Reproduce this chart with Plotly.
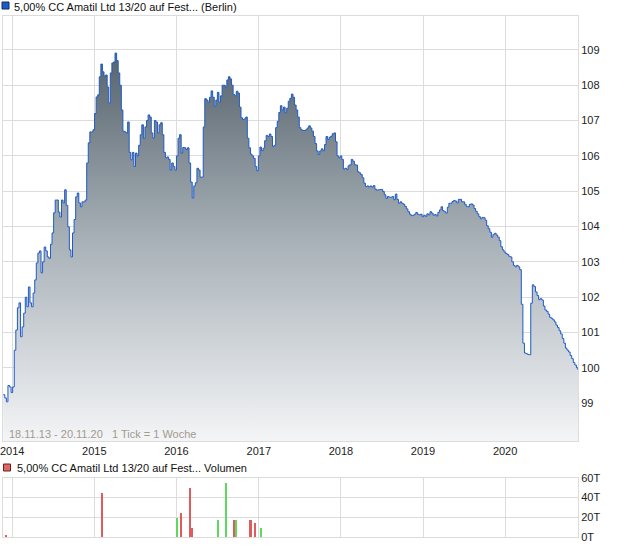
import plotly.graph_objects as go
import pandas as pd

# ---------------- data ----------------
start_date = "2013-11-22"
n_weeks = 366
prices = [
    99.24, 99.15, 99.04, 99.5, 99.46, 99.3, 99.46, 100.5, 101.07, 101.7,
    101.84, 100.88, 101.16, 101.55, 102.0, 101.73, 102.29, 101.84, 101.73, 102.12,
    102.49, 102.97, 103.25, 103.31, 102.69, 103.0, 103.42, 103.31, 103.14, 103.1,
    103.5, 103.82, 104.39, 104.75, 104.75, 104.41, 104.27, 104.75, 104.67, 105.04,
    104.6, 103.99, 103.34, 103.14, 103.82, 104.2, 104.84, 104.95, 104.67, 104.56,
    104.7, 104.7, 104.75, 105.8, 106.37, 106.68, 106.68, 106.74, 107.2, 107.67,
    107.73, 108.24, 108.6, 108.38, 108.26, 108.29, 107.95, 107.5, 108.35, 108.63,
    108.66, 108.91, 108.7, 108.35, 108.0, 107.3, 106.7, 106.68, 106.65, 106.96,
    106.1, 105.89, 106.1, 105.7, 106.08, 106.0, 106.3, 106.6, 106.88, 106.5,
    106.82, 107.0, 107.16, 107.1, 106.65, 106.51, 107.0, 106.96, 106.65, 106.88,
    106.94, 106.6, 106.1, 105.95, 105.97, 105.9, 105.6, 105.8, 105.7, 105.6,
    106.0, 106.5, 106.6, 106.08, 106.24, 106.23, 106.18, 106.23, 105.8, 105.26,
    104.81, 105.15, 105.24, 105.65, 105.6, 105.4, 105.4, 106.82, 107.62, 107.58,
    107.52, 107.66, 107.84, 107.66, 107.4, 107.58, 107.8, 107.52, 107.7, 108.0,
    108.0, 107.95, 108.15, 108.24, 108.18, 108.0, 107.74, 107.7, 107.83, 107.78,
    107.38, 107.08, 107.03, 107.05, 107.1, 106.5, 106.23, 106.05, 106.0, 105.93,
    105.7, 105.58, 106.0, 106.25, 106.15, 106.22, 106.43, 106.58, 106.55, 106.62,
    106.55, 106.27, 106.3, 106.8, 106.98, 107.23, 107.42, 107.3, 107.38, 107.22,
    107.35, 107.55, 107.63, 107.75, 107.66, 107.44, 107.3, 107.1, 106.8, 106.74,
    106.72, 106.72, 106.74, 106.79, 106.85, 106.79, 106.7, 106.55, 106.35, 106.14,
    106.04, 106.14, 106.2, 106.15, 106.32, 106.55, 106.47, 106.53, 106.56, 106.63,
    106.65, 106.4, 106.0, 105.95, 106.0, 105.9, 105.63, 105.65, 105.62, 105.72,
    105.75, 105.9, 105.85, 105.75, 105.74, 105.55, 105.52, 105.47, 105.38, 105.23,
    105.13, 105.15, 105.12, 105.15, 105.12, 105.16, 105.06, 105.03, 105.04, 105.05,
    105.05, 104.99, 104.9, 104.8, 104.85, 104.83, 104.83, 104.85, 104.76, 104.92,
    104.77, 104.66, 104.7, 104.66, 104.63, 104.57, 104.5, 104.42, 104.35, 104.31,
    104.32, 104.35, 104.4, 104.35, 104.33, 104.35, 104.28, 104.32, 104.29, 104.36,
    104.33, 104.42, 104.38, 104.32, 104.34, 104.3, 104.4, 104.47, 104.56, 104.45,
    104.42, 104.38, 104.55, 104.66, 104.66, 104.71, 104.74, 104.72, 104.67, 104.77,
    104.77, 104.7, 104.7, 104.63, 104.57, 104.56, 104.63, 104.64, 104.61, 104.51,
    104.43, 104.36, 104.28, 104.22, 104.26, 104.25, 104.18, 104.02, 103.94, 103.84,
    103.7, 103.78, 103.81, 103.76, 103.7, 103.6, 103.43, 103.34, 103.28, 103.24,
    103.21, 103.16, 103.14, 103.0, 102.9, 102.86, 102.9, 102.86, 102.78, 101.8,
    100.7, 100.42, 100.4, 100.38, 100.37, 101.83, 102.35, 102.3, 102.15, 102.05,
    101.93, 101.96, 101.92, 101.75, 101.64, 101.6, 101.52, 101.43, 101.4, 101.36,
    101.3, 101.21, 101.14, 101.05, 100.96, 100.83, 100.7, 100.56, 100.5, 100.45,
    100.35, 100.26, 100.15, 100.08, 100.0, 99.94,
]

vol_dates = ["2013-12-05", "2015-02-04", "2016-01-03", "2016-01-21", "2016-03-02",
             "2016-03-11", "2016-07-05", "2016-08-09", "2016-09-14", "2016-09-23",
             "2016-11-22", "2016-11-28", "2016-12-16", "2017-01-11"]
vol_values = [2500, 45000, 20000, 24500, 50000, 9000, 18000, 55000, 18000, 18000,
              18000, 18000, 14000, 9000]
vol_dir = ["down", "down", "up", "down", "down", "down", "up", "up", "down", "up",
           "down", "down", "down", "up"]

price_ticks = [99, 100, 101, 102, 103, 104, 105, 106, 107, 108, 109]
vol_ticks = [0, 20000, 40000, 60000]
vol_tick_labels = ["0T", "20T", "40T", "60T"]

title_main = "5,00% CC Amatil Ltd 13/20 auf Fest... (Berlin)"
title_vol = "5,00% CC Amatil Ltd 13/20 auf Fest... Volumen"
range_note = "18.11.13 - 20.11.20&nbsp;&nbsp;&nbsp;1 Tick = 1 Woche"

# ---------------- layout geometry ----------------
W, H = 620, 546
ML, MR, MT, MB = 3, 42, 16, 9
PW, PH = W - ML - MR, H - MT - MB


def px(xp):
    return (xp - ML) / PW


def py(yp):
    return (H - MB - yp) / PH


dates = pd.date_range(start_date, periods=n_weeks, freq="7D")
FONT = "Liberation Sans, Arial, sans-serif"
GRID = "#dcdcdc"

fig = go.Figure()

fig.add_trace(go.Scatter(
    x=dates, y=prices, mode="lines",
    line=dict(color="#1f5bc8", width=1, shape="hv"),
    fill="tozeroy",
    fillgradient=dict(type="vertical", start=97.9, stop=109.0,
                      colorscale=[[0, "#f4f5f7"], [0.5, "#aab3b9"], [1, "#55626c"]]),
    hoverinfo="skip", showlegend=False,
    xaxis="x", yaxis="y",
))

vol_colors = ["#e05c5c" if d == "down" else "#5fd85f" for d in vol_dir]
fig.add_trace(go.Bar(
    x=pd.to_datetime(vol_dates), y=vol_values,
    marker=dict(color=vol_colors, line=dict(width=0)),
    width=4 * 86400000,
    showlegend=False, hoverinfo="skip",
    xaxis="x2", yaxis="y2",
))

x_range = ["2013-11-21", "2020-11-20"]
main_bottom = py(441)
vol_top = py(477.7)

fig.update_layout(
    width=W, height=H,
    margin=dict(l=ML, r=MR, t=MT, b=MB, pad=0),
    paper_bgcolor="white", plot_bgcolor="white",
    font=dict(family=FONT, size=11, color="#222222"),
    bargap=0,
    xaxis=dict(
        type="date", range=x_range, domain=[0, 1], anchor="y",
        tick0="2014-01-01", dtick="M12", tickformat="%Y",
        showgrid=True, gridcolor=GRID, gridwidth=1,
        showline=True, linecolor=GRID, linewidth=1, mirror=True,
        ticks="", tickfont=dict(size=11, color="#222222"),
        ticklabeloverflow="allow", automargin=False,
        zeroline=False,
    ),
    yaxis=dict(
        range=[97.93, 109.96], domain=[main_bottom, 1], anchor="x",
        side="right", tickvals=price_ticks,
        showgrid=True, gridcolor=GRID, gridwidth=1,
        showline=True, linecolor=GRID, linewidth=1, mirror=True,
        ticks="", tickfont=dict(size=11, color="#222222"),
        ticklabeloverflow="allow", automargin=False,
        zeroline=False,
    ),
    xaxis2=dict(
        type="date", range=x_range, domain=[0, 1], anchor="y2",
        tick0="2014-01-01", dtick="M12",
        showgrid=True, gridcolor=GRID, gridwidth=1,
        showline=True, linecolor=GRID, linewidth=1, mirror=True,
        showticklabels=False, ticks="", zeroline=False, automargin=False,
    ),
    yaxis2=dict(
        range=[0, 60000], domain=[0, vol_top], anchor="x2",
        side="right", tickvals=vol_ticks, ticktext=vol_tick_labels,
        showgrid=True, gridcolor=GRID, gridwidth=1,
        showline=True, linecolor=GRID, linewidth=1, mirror=True,
        ticks="", tickfont=dict(size=11, color="#222222"),
        ticklabeloverflow="allow", automargin=False,
        zeroline=False,
    ),
)

shapes = [
    dict(type="rect", xref="paper", yref="paper",
         x0=px(2), x1=px(9), y0=py(2), y1=py(9),
         fillcolor="#1f5bc8", line=dict(color="#102c60", width=1)),
    dict(type="rect", xref="paper", yref="paper",
         x0=px(3.5), x1=px(10.5), y0=py(464), y1=py(471),
         fillcolor="#e06666", line=dict(color="#6a2020", width=1)),
]
annotations = [
    dict(text=title_main, xref="paper", yref="paper", x=px(12), y=py(6.5),
         xanchor="left", yanchor="middle", showarrow=False,
         font=dict(family=FONT, size=11, color="#111111")),
    dict(text=title_vol, xref="paper", yref="paper", x=px(15), y=py(468),
         xanchor="left", yanchor="middle", showarrow=False,
         font=dict(family=FONT, size=11, color="#111111")),
    dict(text=range_note, xref="paper", yref="paper", x=px(7), y=py(434),
         xanchor="left", yanchor="middle", showarrow=False,
         font=dict(family=FONT, size=11, color="#a39a8e")),
]
fig.update_layout(shapes=shapes, annotations=annotations)

fig.write_html(
    "out.html",
    config={"displayModeBar": False},
    post_script="document.body.style.margin='0px';document.body.style.padding='0px';",
)
